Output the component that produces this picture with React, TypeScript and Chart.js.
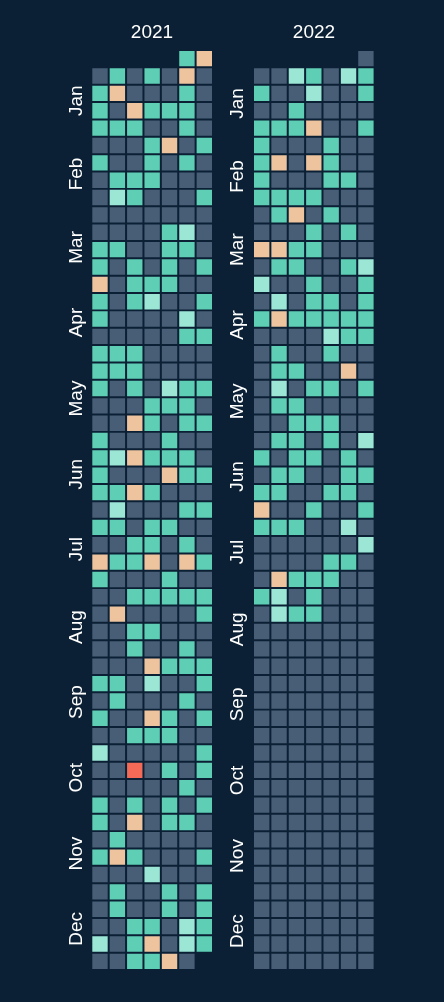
import React, { useEffect, useRef } from 'react';
import { Chart, registerables } from 'chart.js';

Chart.register(...registerables);

// ---- data ----
const MONTHS = ['Jan', 'Feb', 'Mar', 'Apr', 'May', 'Jun', 'Jul', 'Aug', 'Sep', 'Oct', 'Nov', 'Dec'];
const WEEKDAYS = ['Sun', 'Mon', 'Tue', 'Wed', 'Thu', 'Fri', 'Sat'];
// level -> colour (0 none, 1 low, 2 mid, 3 high, 4 max)
const LEVEL_COLORS = ['#475e76', '#5ecfb5', '#9ce6d6', '#eec49f', '#f46a57'];
const EMPTY_COLOR = '#475e76';
const BG = '#0b2034';

const N = null;
// weekly rows, Sunday..Saturday
const weeks2021: (number | null)[][] = [
  [N, N, N, N, N, 1, 3],
  [0, 1, 0, 1, 0, 3, 0],
  [1, 3, 0, 0, 0, 1, 0],
  [1, 0, 3, 1, 1, 1, 0],
  [1, 1, 1, 0, 0, 1, 0],
  [0, 0, 0, 1, 3, 0, 1],
  [1, 0, 0, 1, 0, 1, 0],
  [0, 1, 1, 1, 0, 0, 0],
  [0, 2, 1, 0, 0, 0, 1],
  [0, 0, 0, 0, 0, 0, 0],
  [0, 0, 0, 0, 1, 2, 0],
  [1, 1, 0, 0, 1, 1, 0],
  [1, 0, 1, 0, 1, 0, 1],
  [3, 0, 1, 1, 1, 0, 0],
  [1, 0, 1, 2, 0, 0, 1],
  [1, 0, 0, 0, 0, 2, 0],
  [0, 0, 0, 0, 0, 1, 1],
  [1, 1, 1, 0, 0, 0, 0],
  [1, 1, 1, 0, 0, 0, 0],
  [1, 0, 1, 0, 2, 1, 1],
  [0, 0, 0, 1, 1, 1, 0],
  [0, 0, 3, 1, 0, 1, 1],
  [1, 0, 0, 0, 1, 0, 0],
  [1, 2, 3, 1, 1, 1, 0],
  [1, 0, 0, 0, 3, 1, 1],
  [1, 1, 3, 1, 0, 0, 0],
  [0, 2, 0, 0, 0, 1, 1],
  [1, 1, 0, 1, 1, 0, 0],
  [0, 0, 1, 1, 0, 1, 0],
  [3, 1, 1, 3, 0, 3, 1],
  [1, 0, 0, 0, 1, 0, 0],
  [0, 0, 1, 1, 1, 1, 1],
  [0, 3, 0, 0, 0, 0, 1],
  [0, 0, 1, 1, 0, 0, 0],
  [0, 0, 1, 0, 0, 1, 0],
  [0, 0, 0, 3, 1, 1, 1],
  [1, 1, 0, 2, 0, 0, 1],
  [0, 1, 0, 0, 0, 1, 0],
  [1, 0, 0, 3, 1, 0, 1],
  [0, 0, 1, 1, 1, 0, 0],
  [2, 0, 0, 0, 0, 0, 1],
  [0, 0, 4, 0, 1, 0, 1],
  [0, 0, 0, 0, 0, 1, 0],
  [1, 0, 1, 0, 1, 0, 1],
  [1, 0, 3, 0, 1, 1, 0],
  [0, 1, 0, 0, 0, 0, 0],
  [1, 3, 1, 0, 0, 0, 1],
  [0, 0, 0, 2, 0, 0, 0],
  [0, 1, 0, 0, 1, 0, 1],
  [0, 1, 0, 0, 1, 0, 1],
  [0, 0, 1, 1, 0, 2, 1],
  [2, 0, 1, 3, 0, 2, 1],
  [0, 0, 1, 1, 3, 0, N],
];

const weeks2022: (number | null)[][] = [
  [N, N, N, N, N, N, 0],
  [0, 0, 2, 1, 0, 2, 1],
  [1, 0, 0, 2, 0, 0, 1],
  [0, 0, 1, 0, 0, 0, 0],
  [1, 1, 1, 3, 0, 0, 1],
  [1, 0, 0, 0, 1, 0, 0],
  [1, 3, 0, 3, 1, 0, 0],
  [1, 0, 0, 0, 1, 1, 0],
  [1, 1, 1, 1, 0, 0, 0],
  [0, 1, 3, 0, 1, 0, 0],
  [0, 0, 0, 1, 0, 1, 0],
  [3, 3, 1, 1, 0, 0, 0],
  [0, 1, 1, 0, 0, 1, 2],
  [2, 0, 0, 1, 0, 0, 1],
  [0, 2, 0, 1, 1, 0, 1],
  [1, 3, 1, 1, 1, 1, 1],
  [0, 0, 0, 0, 2, 1, 1],
  [0, 1, 0, 0, 1, 0, 0],
  [0, 1, 1, 0, 0, 3, 0],
  [0, 2, 0, 1, 1, 0, 1],
  [0, 1, 1, 0, 0, 0, 0],
  [0, 0, 1, 1, 1, 0, 0],
  [0, 1, 1, 0, 1, 0, 2],
  [1, 0, 1, 1, 0, 1, 0],
  [0, 1, 1, 0, 0, 1, 1],
  [1, 1, 0, 0, 1, 1, 0],
  [3, 0, 0, 1, 0, 0, 1],
  [1, 1, 1, 0, 0, 2, 0],
  [0, 0, 0, 0, 0, 0, 2],
  [0, 0, 0, 0, 1, 1, 0],
  [0, 3, 1, 1, 1, 0, 0],
  [1, 2, 0, 1, 0, 0, 0],
  [0, 2, 1, 1],
];

const YEARS = [2021, 2022];
const YEAR_WEEKS = [weeks2021, weeks2022];

// ---- helpers ----
const DAY = 86400000;

function buildYear(year: number, weeks: (number | null)[][]) {
  const start = Date.UTC(year, 0, 1);
  const firstDow = new Date(start).getUTCDay();
  const points: { x: number; y: number; v: number | null }[] = [];
  const sums = new Array(12).fill(0);
  const counts = new Array(12).fill(0);
  for (let t = start; new Date(t).getUTCFullYear() === year; t += DAY) {
    const doy = Math.round((t - start) / DAY);
    const week = Math.floor((doy + firstDow) / 7);
    const dow = (doy + firstDow) % 7;
    const row = weeks[week];
    const v = row && row[dow] != null ? (row[dow] as number) : null;
    points.push({ x: dow, y: week, v });
    const m = new Date(t).getUTCMonth();
    sums[m] += week;
    counts[m] += 1;
  }
  const monthPos = sums.map((s, i) => s / counts[i]);
  return { points, monthPos };
}

const FONT = 'Liberation Sans, Arial, Helvetica, sans-serif';

function YearChart({ year, weeks, left, leftW, rightW }: { year: number; weeks: (number | null)[][]; left: number; leftW: number; rightW: number }) {
  const ref = useRef<HTMLCanvasElement | null>(null);
  useEffect(() => {
    if (!ref.current) return;
    const { points, monthPos } = buildYear(year, weeks);
    const cellRadius = (chart: any) => {
      const xs = chart.scales.x;
      const pitch = Math.abs(xs.getPixelForValue(1) - xs.getPixelForValue(0));
      return Math.max(1, (pitch - 2) / Math.SQRT2);
    };
    const chart = new Chart(ref.current, {
      type: 'scatter',
      data: {
        datasets: [
          {
            label: String(year),
            data: points as any,
            pointStyle: 'rect',
            pointRadius: (ctx: any) => cellRadius(ctx.chart),
            pointHoverRadius: (ctx: any) => cellRadius(ctx.chart),
            pointBackgroundColor: (ctx: any) => {
              const v = ctx.raw ? ctx.raw.v : null;
              return v == null ? EMPTY_COLOR : LEVEL_COLORS[v];
            },
            pointBorderWidth: 0,
            pointHoverBorderWidth: 0,
          } as any,
        ],
      },
      options: {
        animation: false,
        responsive: false,
        maintainAspectRatio: false,
        events: [],
        layout: { padding: { top: 0, left: 0, right: 0, bottom: 32 } },
        plugins: {
          legend: { display: false },
          tooltip: { enabled: false },
          title: {
            display: true,
            text: String(year),
            color: '#ffffff',
            font: { size: 19, family: FONT, weight: 'normal' as any, lineHeight: 1.2 },
            padding: { top: 21.6, bottom: 5.6 },
          },
        },
        scales: {
          x: {
            type: 'linear',
            min: -0.5,
            max: 6.5,
            display: false,
          },
          y: {
            type: 'linear',
            min: -0.5,
            max: 52.5,
            reverse: true,
            position: 'left',
            grid: { display: false, drawTicks: false },
            border: { display: false },
            afterBuildTicks: (s: any) => {
              s.ticks = monthPos.map((v) => ({ value: v }));
            },
            afterFit: (s: any) => {
              s.width = leftW;
            },
            ticks: {
              autoSkip: false,
              minRotation: 90,
              maxRotation: 90,
              crossAlign: 'center',
              padding: -3,
              color: '#ffffff',
              font: { size: 19, family: FONT },
              callback: (_v: any, i: number) => MONTHS[i],
            },
          },
          yRight: {
            type: 'linear',
            min: -0.5,
            max: 52.5,
            reverse: true,
            position: 'right',
            grid: { display: false, drawTicks: false },
            border: { display: false },
            ticks: { display: false },
            afterFit: (s: any) => {
              s.width = rightW;
            },
          },
        },
      },
    });
    return () => chart.destroy();
  }, [year, weeks, left, leftW, rightW]);
  return (
    <canvas
      ref={ref}
      width={194}
      height={1002}
      style={{ position: 'absolute', left, top: 0, width: 194, height: 1002 }}
    />
  );
}

export default function App() {
  return (
    <div style={{ position: 'fixed', left: 0, top: 0, width: 444, height: 1002, background: BG, overflow: 'hidden' }}>
      <YearChart year={YEARS[0]} weeks={YEAR_WEEKS[0]} left={55} leftW={36.3} rightW={36} />
      <YearChart year={YEARS[1]} weeks={YEAR_WEEKS[1]} left={217} leftW={36} rightW={36.4} />
    </div>
  );
}
